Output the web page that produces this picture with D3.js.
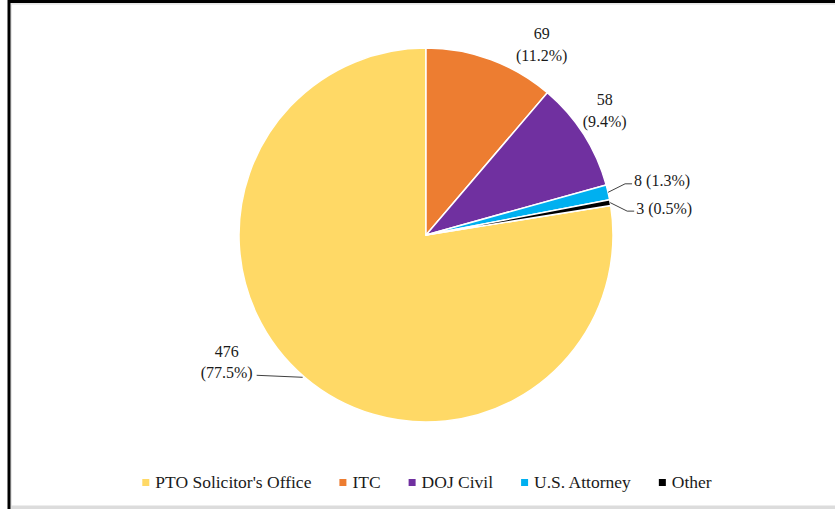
<!DOCTYPE html>
<html>
<head>
<meta charset="utf-8">
<script src="https://cdn.jsdelivr.net/npm/d3@7"></script>
<style>
  html, body { margin: 0; padding: 0; background: #fff; }
  svg { display: block; }
  text { font-family: "Liberation Serif", "DejaVu Serif", serif; fill: #1a1a1a; }
</style>
</head>
<body>
<svg id="chart" width="835" height="509"></svg>
<script>
// ---- data ----
const categories = ["PTO Solicitor's Office", "ITC", "DOJ Civil", "U.S. Attorney", "Other"];
const values = [476, 69, 58, 8, 3];
const colors = ["#FFD966", "#ED7D31", "#7030A0", "#00B0F0", "#000000"];
// label layout per slice
const labelModes = ["leaderLeft", "stack", "stack", "leader", "leader"];

const svg = d3.select("#chart");
const W = 835, H = 509;

// frame
svg.append("rect").attr("x", 0).attr("y", 0).attr("width", W).attr("height", H).attr("fill", "#fff");
svg.append("rect").attr("x", 11).attr("y", 3).attr("width", W - 11).attr("height", 1.7).attr("fill", "#e6e6e6");
svg.append("rect").attr("x", 10).attr("y", 3).attr("width", 2).attr("height", H - 3).attr("fill", "#e6e6e6");
svg.append("rect").attr("x", 8).attr("y", 0).attr("width", W - 8).attr("height", 3).attr("fill", "#000");
svg.append("rect").attr("x", 7.5).attr("y", 0).attr("width", 3).attr("height", H).attr("fill", "#000");
svg.append("rect").attr("x", 11).attr("y", H - 3.5).attr("width", W - 11).attr("height", 3.5).attr("fill", "#dcdcdc");

const cx = 426, cy = 235, R = 187;
const total = d3.sum(values);
const ptoAngle = 2 * Math.PI * values[0] / total;
const start = 2 * Math.PI - ptoAngle;

const pie = d3.pie().sort(null).value(d => d).startAngle(start).endAngle(start + 2 * Math.PI);
const arcs = pie(values);
const arc = d3.arc().innerRadius(0).outerRadius(R);

const g = svg.append("g").attr("transform", `translate(${cx},${cy})`);
g.selectAll("path.slice").data(arcs).enter().append("path")
  .attr("class", "slice")
  .attr("d", arc)
  .attr("fill", (d, i) => colors[i])
  .attr("stroke", "#fff")
  .attr("stroke-width", 1.5)
  .attr("stroke-linejoin", "round");

// labels
const fmtPct = v => (v / total * 100).toFixed(1) + "%";
// offsets of the label relative to the arc edge point at mid angle
const labelOffsets = [
  { dx: -48, dy: -2 },   // PTO: left end of leader
  { dx: 51, dy: -15 },   // ITC: block centre
  { dx: 21, dy: -24 },   // DOJ
  { dx: 17, dy: -8.5 },  // US Att: elbow
  { dx: 17, dy: 8.5 }    // Other: elbow
];
const lineH = 22;
const fs = 16;

arcs.forEach((d, i) => {
  const mid = (d.startAngle + d.endAngle) / 2;
  const ex = Math.sin(mid) * R, ey = -Math.cos(mid) * R;
  const off = labelOffsets[i];
  const mode = labelModes[i];
  const v = values[i];
  if (mode === "stack") {
    const t = g.append("text").attr("text-anchor", "middle").attr("font-size", fs);
    t.append("tspan").attr("x", ex + off.dx).attr("y", ey + off.dy - lineH / 2 + 5.5).text(v);
    t.append("tspan").attr("x", ex + off.dx).attr("y", ey + off.dy + lineH / 2 + 5.5).text("(" + fmtPct(v) + ")");
  } else if (mode === "leader") {
    const elx = ex + off.dx, ely = ey + off.dy;
    g.append("path")
      .attr("d", `M${ex},${ey}L${elx},${ely}L${elx + 7},${ely}`)
      .attr("fill", "none").attr("stroke", "#404040").attr("stroke-width", 1);
    g.append("text").attr("x", elx + 9).attr("y", ely + 2.5).attr("font-size", fs)
      .text(v + " (" + fmtPct(v) + ")");
  } else if (mode === "leaderLeft") {
    const lx = ex + off.dx, ly = ey + off.dy;
    g.append("path")
      .attr("d", `M${ex - 2},${ey}L${lx},${ly}`)
      .attr("fill", "none").attr("stroke", "#404040").attr("stroke-width", 1);
    const t = g.append("text").attr("text-anchor", "end").attr("font-size", fs);
    const tw = 52;
    t.append("tspan").attr("x", lx - 4 - tw / 2).attr("text-anchor", "middle").attr("y", ly - 18).text(v);
    t.append("tspan").attr("x", lx - 4).attr("y", ly + 3).text("(" + fmtPct(v) + ")");
  }
});

// legend
const legFs = 17.5, sq = 7, sqGap = 6, itemGap = 28;
const leg = svg.append("g");
const items = categories.map((c, i) => {
  const it = leg.append("g");
  it.append("rect").attr("width", sq).attr("height", sq).attr("y", -sq / 2).attr("fill", colors[i]);
  const t = it.append("text").attr("x", sq + sqGap).attr("y", 5.5).attr("font-size", legFs).text(c);
  return { g: it, w: sq + sqGap + t.node().getComputedTextLength() };
});
const totalW = d3.sum(items, d => d.w) + itemGap * (items.length - 1);
let x0 = 427 - totalW / 2;
items.forEach(it => {
  it.g.attr("transform", `translate(${x0},482.5)`);
  x0 += it.w + itemGap;
});
</script>
</body>
</html>
